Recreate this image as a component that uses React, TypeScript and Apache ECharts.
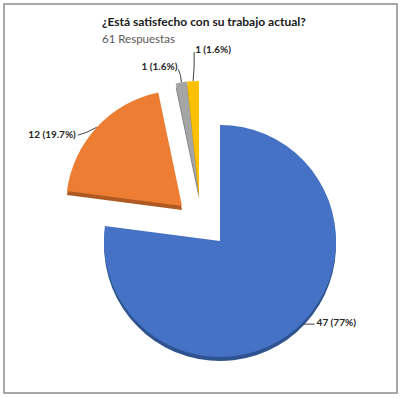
import React, { useEffect, useRef } from "react";
import * as echarts from "echarts";

const categories = ["Sí", "No", "Otro A", "Otro B"];
const values = [47, 12, 1, 1];
const colors = ["#4472C4", "#ED7D31", "#A5A5A5", "#FFC000"];
const edgeColors = ["#2F528F", "#AE5A21", "#7B7B7B", "#BF9000"];
const titleText = "¿Está satisfecho con su trabajo actual?";
const subtitleText = "61 Respuestas";

// slice -> drawing group (each group is a pie drawn with its own pulled-out centre)
const sliceGroup = [0, 1, 2, 2];
const groupCenters: [number, number][] = [
  [220, 241],
  [182, 206],
  [199, 195],
];
const groupRadius = [116, 116, 114];

const FONT = "Lato";
const hidden = "rgba(0,0,0,0)";

function labelFmt(p: any) {
  return `${p.value} (${Number(p.percent.toFixed(1))}%)`;
}

function buildData(g: number) {
  return categories.map((name, i) => {
    const visible = sliceGroup[i] === g;
    return {
      name,
      value: values[i],
      itemStyle: visible
        ? {
            color: colors[i],
            shadowColor: edgeColors[i],
            shadowOffsetY: 4,
            shadowBlur: 0,
          }
        : { color: hidden, borderWidth: 0 },
      label: { show: visible },
      labelLine: { show: visible },
    };
  });
}

function placeLabel(p: any) {
  const pts = p.labelLinePoints;
  if (!pts) return {};
  const a = pts[0];
  switch (p.dataIndex) {
    case 0:
      return {
        x: a[0] + 20,
        y: a[1] - 6,
        align: "left",
        verticalAlign: "middle",
        labelLinePoints: [a, [a[0] + 8, a[1] - 4], [a[0] + 18, a[1] - 4]],
      };
    case 1:
      return {
        x: a[0] - 21,
        y: a[1] + 7,
        align: "right",
        verticalAlign: "middle",
        labelLinePoints: [a, [a[0] - 10, a[1] + 5], [a[0] - 19, a[1] + 8]],
      };
    case 2:
      return {
        x: a[0] - 4,
        y: a[1] - 16,
        align: "right",
        verticalAlign: "middle",
        labelLinePoints: [a, [a[0] - 1, a[1] - 7], [a[0] - 3, a[1] - 13]],
      };
    case 3:
      return {
        x: a[0] + 2,
        y: a[1] - 32,
        align: "left",
        verticalAlign: "middle",
        labelLinePoints: [a, [a[0] + 1, a[1] - 15], [a[0] + 1, a[1] - 29]],
      };
  }
  return {};
}

export default function App() {
  const ref = useRef<HTMLDivElement>(null);
  useEffect(() => {
    if (!ref.current) return;
    const chart = echarts.init(ref.current, undefined, { renderer: "svg" });
    const labelCommon = {
      position: "outside",
      fontFamily: FONT,
      fontSize: 10,
      fontWeight: "bold",
      color: "#262626",
      formatter: labelFmt,
    };
    chart.setOption({
      animation: false,
      backgroundColor: "#ffffff",
      title: {
        text: titleText,
        subtext: subtitleText,
        left: 97,
        top: 10,
        itemGap: 5,
        textStyle: {
          fontFamily: FONT,
          fontSize: 12,
          fontWeight: "bold",
          color: "#1a1a1a",
        },
        subtextStyle: {
          fontFamily: FONT,
          fontSize: 11.5,
          color: "#595959",
        },
      },
      graphic: [
        {
          type: "rect",
          shape: { x: 4, y: 4, width: 393, height: 389 },
          style: { fill: "none", stroke: "#8c8c8c", lineWidth: 1.5 },
          silent: true,
        },
      ],
      series: groupCenters.map((c, g) => ({
        type: "pie",
        center: c,
        radius: groupRadius[g],
        startAngle: 90,
        clockwise: true,
        silent: true,
        emphasis: { disabled: true },
        label: labelCommon,
        labelLine: {
          length: 8,
          length2: 10,
          lineStyle: { color: "#404040", width: 1 },
        },
        labelLayout: placeLabel,
        data: buildData(g),
      })),
    });
    return () => chart.dispose();
  }, []);
  return (
    <div
      ref={ref}
      style={{ position: "absolute", left: 0, top: 0, width: 402, height: 398 }}
    />
  );
}
